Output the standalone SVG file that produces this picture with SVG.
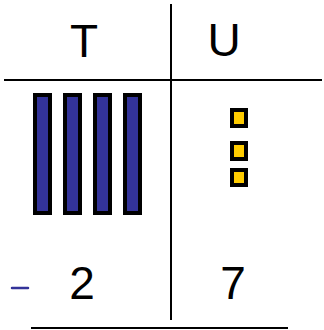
<svg xmlns="http://www.w3.org/2000/svg" width="324" height="330" viewBox="0 0 324 330">
<style>
.ln{stroke:#000;stroke-width:2;fill:none}
.txt{font-family:"Liberation Sans","DejaVu Sans",sans-serif;font-size:46px;fill:#000;text-anchor:middle}
.rod{fill:#333399;stroke:#000;stroke-width:4}
.unit{fill:#FFCC00;stroke:#000;stroke-width:4}
</style>
<rect width="324" height="330" fill="#fff"/>
<g id="grid">
<line class="ln" x1="171" y1="4" x2="171" y2="320"/>
<line class="ln" x1="4" y1="80" x2="322" y2="80"/>
<line class="ln" x1="31" y1="328" x2="288" y2="328"/>
</g>
<g id="header-T"><text class="txt" x="84" y="57">T</text></g>
<g id="header-U"><text class="txt" x="224" y="56">U</text></g>
<g id="tens">
<rect class="rod" x="35" y="95" width="15" height="118"/>
<rect class="rod" x="65" y="95" width="15" height="118"/>
<rect class="rod" x="95" y="95" width="15" height="118"/>
<rect class="rod" x="125" y="95" width="15" height="118"/>
</g>
<g id="units">
<rect class="unit" x="232" y="110" width="14" height="16"/>
<rect class="unit" x="232" y="143" width="14" height="16"/>
<rect class="unit" x="232" y="170" width="14" height="15"/>
</g>
<g id="minus"><line x1="12" y1="288" x2="28" y2="288" stroke="#333399" stroke-width="2.5" stroke-linecap="round"/></g>
<g id="digit-2"><text class="txt" x="82" y="299">2</text></g>
<g id="digit-7"><text class="txt" x="233" y="299">7</text></g>
</svg>
